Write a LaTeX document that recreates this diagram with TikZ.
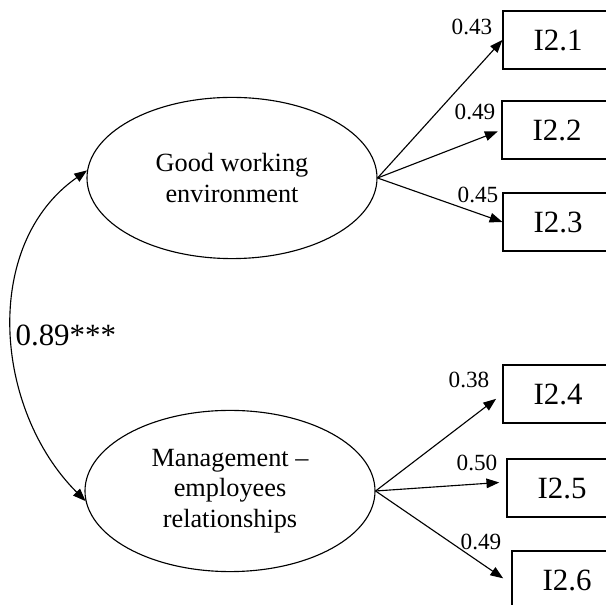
\documentclass[tikz,border=0pt]{standalone}
\usepackage{fontspec}
\setmainfont{Liberation Serif}
\usetikzlibrary{shapes.geometric,arrows.meta}
\begin{document}
\begin{tikzpicture}[line width=0.8pt,>={Triangle[length=0.32cm,width=0.24cm]},
  lat/.style={draw,ellipse,inner sep=0pt,minimum width=7.25cm,minimum height=4.03cm,align=center,font=\fontsize{18.7}{21.5}\selectfont},
  ind/.style={draw,rectangle,minimum width=2.75cm,minimum height=1.45cm,font=\fontsize{22}{26}\selectfont},
  ld/.style={font=\fontsize{16.5}{19}\selectfont,inner sep=0pt}]
  \useasboundingbox (0,0) rectangle (15.15,15.125);
  \clip (0,0) rectangle (15.15,15.125);
  % latent factors
  \node[lat] (e1) at (5.80,10.675){Good working\\environment};
  \node[lat] (e2) at (5.75,2.85){Management --\\employees\\relationships};
  % indicators
  \node[ind] (b1) at (13.95,14.125){I2.1};
  \node[ind] (b2) at (13.925,11.875){I2.2};
  \node[ind] (b3) at (13.95,9.575){I2.3};
  \node[ind] (b4) at (13.95,5.275){I2.4};
  \node[ind] (b5) at (14.05,2.925){I2.5};
  \node[ind] (b6) at (14.175,0.625){I2.6};
  % loadings
  \draw[->] (e1.east) -- (b1.west);
  \draw[->,shorten >=0.1cm] (e1.east) -- (b2.west);
  \draw[->] (e1.east) -- (b3.west);
  \draw[->,shorten >=0.2cm] (e2.east) -- (b4.west);
  \draw[->,shorten >=0.18cm] (e2.east) -- ([yshift=0.15cm]b5.west);
  \draw[->,shorten >=0.25cm] (e2.east) -- ([yshift=-0.1cm]b6.west);
  \node[ld] (l1) at (11.8,14.45){0.43};
  \node[ld] (l2) at (11.875,12.325){0.49};
  \node[ld] (l3) at (11.95,10.25){0.45};
  \node[ld] (l4) at (11.725,5.625){0.38};
  \node[ld] (l5) at (11.925,3.55){0.50};
  \node[ld] (l6) at (12.025,1.575){0.49};
  % covariance
  \draw[<->] (e1.177) to[out=215,in=135] (e2.184);
  \node[font=\fontsize{22}{26}\selectfont,inner sep=0pt,anchor=west] (cov) at (0.375,6.75){0.89***};
\end{tikzpicture}
\end{document}
